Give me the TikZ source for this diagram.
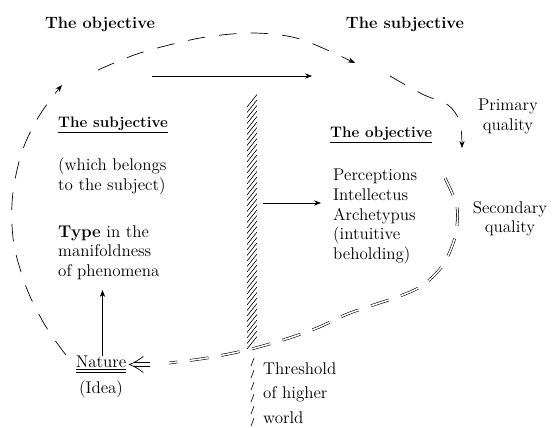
\documentclass[tikz,border=0pt]{standalone}
\usepackage{tikz}
\usetikzlibrary{arrows.meta,calc}

\begin{document}
\begin{tikzpicture}[scale=0.3,
  every node/.style={inner sep=0pt, font=\fontsize{14.5}{16.8}\selectfont},
  head/.style={font=\fontsize{14}{16}\selectfont\bfseries},
  sub/.style={font=\fontsize{13}{15}\selectfont\bfseries},
  txt/.style={align=left, anchor=north west},
  arr/.style={line width=0.6pt, -{Stealth[length=6pt,width=4.5pt]}},
  loop/.style={arr, dash pattern=on 15pt off 12pt},
  dbl/.style={line width=0.5pt, double, double distance=1.3pt, dash pattern=on 16pt off 11pt}]
\useasboundingbox (0,0) rectangle (55.3,-42.8);
% headings
\node[head, anchor=north] (hobj) at (10.0,-1.65) {The objective};
\node[head, anchor=north] (hsubj) at (40.5,-1.65) {The subjective};
% left side
\node[txt, sub] (lsubj) at (5.8,-11.7) {\underline{The subjective}};
\node[txt] (lbody) at (5.8,-15.8) {(which belongs\\to the subject)};
\node[txt] (ltype) at (5.8,-22.5) {\textbf{Type} in the\\manifoldness\\of phenomena};
\node[anchor=north] (nat) at (10.1,-35.6) {\underline{\underline{Nature}}};
\node[anchor=north] (idea) at (10.1,-38.1) {(Idea)};
% right side
\node[txt, sub] (robj) at (33.0,-12.7) {\underline{The objective}};
\node[txt] (rbody) at (33.3,-16.9) {Perceptions\\Intellectus\\Archetypus\\(intuitive\\beholding)};
\node[align=center, anchor=north] (prim) at (50.8,-9.9) {Primary\\quality};
\node[align=center, anchor=north] (sec) at (51.0,-20.1) {Secondary\\quality};
\node[txt, font=\fontsize{14.5}{21.3}\selectfont] (thr) at (26.3,-36.2) {Threshold\\of higher\\world};
% threshold
\foreach \y in {10.7,11.25,...,35.2}
  \draw[line width=0.5pt] (24.7,-\y) -- ++(1.0,1.25);
\foreach \y in {36.6,37.8,...,42.8}
  \draw[line width=0.5pt] (25.1,-\y) -- ++(0.3,0.8);
% arrows
\coordinate (t1) at (15.2,-7.6);
\coordinate (t2) at (31.2,-7.6);
\draw[arr] (t1) -- (t2);
\coordinate (m1) at (26.3,-20.3);
\draw[arr, shorten >=3.6mm] (m1) -- (m1 -| rbody.west);
\draw[arr, shorten >=3mm] ([xshift=1.5mm]nat.north) -- ([xshift=1.5mm]nat.north |- ltype.south);
% the loop
\draw[loop] plot[smooth, tension=0.7] coordinates {(6.6,-35.5) (4.2,-32) (2.2,-27.5) (1.2,-22.5) (1.7,-17) (3.5,-12.3) (6.2,-8.5)};
\draw[loop] plot[smooth] coordinates {(9.8,-7.0) (14,-5.3) (20,-3.8) (25.3,-3.3) (30,-3.9) (35.5,-6.3)};
\draw[loop] plot[smooth] coordinates {(39.0,-7.6) (42.2,-9.4) (44.8,-10.5) (46.0,-12.2) (46.2,-14.8)};
\draw[dbl] plot[smooth] coordinates {(44.5,-17.8) (45.7,-20.7) (45.5,-23.7) (44.3,-26.5) (42.3,-28.5) (40,-29.6) (35,-31.3) (31.7,-32.8) (28.3,-34.0) (24.7,-35.0) (20.7,-35.8) (16.9,-36.3)};
% double head at Nature
\coordinate (tip) at ($(nat.east)+(0.3,0)$);
\draw[line width=0.6pt] ($(tip)+(1.4,0.8)$) .. controls ($(tip)+(0.6,0.25)$) .. (tip) .. controls ($(tip)+(0.6,-0.25)$) .. ($(tip)+(1.4,-0.8)$);
\draw[line width=0.5pt] ($(tip)+(0.5,0.22)$) -- ($(tip)+(2.1,0.22)$);
\draw[line width=0.5pt] ($(tip)+(0.5,-0.22)$) -- ($(tip)+(2.1,-0.22)$);
\end{tikzpicture}
\end{document}
